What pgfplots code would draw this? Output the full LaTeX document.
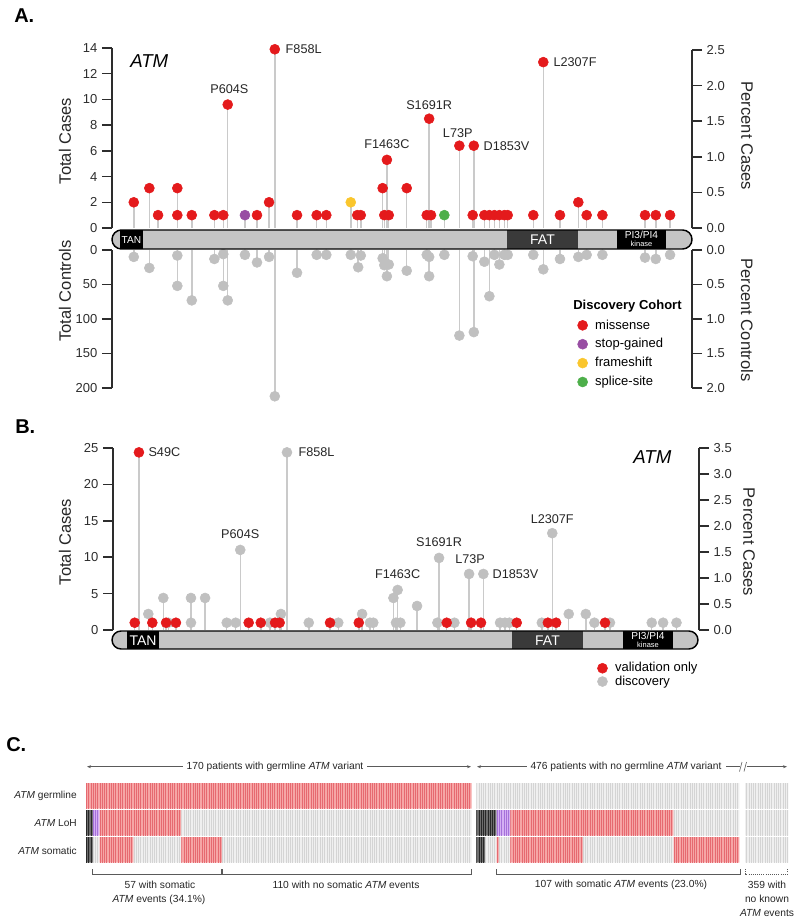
\documentclass[border=0pt]{standalone}
\usepackage{fontspec}
\setmainfont{Liberation Sans}
\usepackage{pgfplots}
\pgfplotsset{compat=1.18}
\usepackage{pgfplotstable}
\usetikzlibrary{patterns.meta,arrows.meta}

\definecolor{mred}{RGB}{228,26,28}
\definecolor{mpur}{RGB}{152,78,163}
\definecolor{myel}{RGB}{250,198,45}
\definecolor{mgrn}{RGB}{77,175,74}
\definecolor{hgrey}{RGB}{192,192,192}
\definecolor{stemc}{RGB}{202,202,202}
\definecolor{axc}{RGB}{45,45,45}
\definecolor{barc}{RGB}{196,196,196}
\definecolor{fatc}{RGB}{58,58,58}
\definecolor{cellred}{RGB}{246,166,166}
\definecolor{cellredL}{RGB}{230,105,112}
\definecolor{cellgrey}{RGB}{239,239,239}
\definecolor{cellgreyL}{RGB}{212,212,212}
\definecolor{celldark}{RGB}{110,110,110}
\definecolor{celldarkL}{RGB}{40,40,40}
\definecolor{cellpur}{RGB}{212,175,244}
\definecolor{cellpurL}{RGB}{165,112,218}
\definecolor{annc}{RGB}{90,90,90}

% ---------------- Panel A: cases (discovery cohort) ----------------
\pgfplotstableread{
x y
97 2
181 3.1
228 1
332 3.1
332 1
410 1
532 1
580 1
604 9.6
762 1
827 2
858 13.9
978 1
1084 1
1136 1
1303 1
1322 1
1440 3.1
1449 1
1463 5.3
1473 1
1570 3.1
1678 1
1691 8.5
1701 1
1854 6.4
1926 1
1932 6.4
1989 1
2016 1
2043 1
2070 1
2097 1
2115 1
2253 1
2307 12.9
2397 1
2496 2
2541 1
2626 1
2856 1
2914 1
2991 1
}\Amis
\pgfplotstableread{
x y
697 1
}\Astop
\pgfplotstableread{
x y
1268 2
}\Afs
\pgfplotstableread{
x y
1773 1
}\Asp
% ---------------- Panel A: controls ----------------
\pgfplotstableread{
x y
97 10
181 26
332 8
332 52
410 73
532 13
580 6
580 52
604 73
697 7
762 18
827 10
858 212
978 33
1084 7
1136 7
1268 7
1308 25
1322 8
1440 12
1449 22
1463 38
1473 21
1570 30
1678 7
1691 10
1691 38
1773 7
1854 124
1926 9
1932 119
1989 17
2016 67
2043 7
2070 21
2097 7
2115 7
2253 7
2307 28
2397 13
2496 10
2541 7
2626 7
2856 11
2914 13
2991 7
}\Actrl
% ---------------- Panel B ----------------
\pgfplotstableread{
x y
102 2.2
184 4.4
211 1
335 4.4
335 1
412 4.4
530 1
579 1
604 11
766 1
826 2.2
859 24.4
978 1
1139 1
1269 2.2
1312 1
1330 1
1440 4.4
1454 1
1463 5.5
1478 1
1569 3.3
1680 1
1689 9.9
1773 1
1853 7.7
1931 7.7
2022 1
2049 1
2073 1
2250 1
2307 13.3
2397 2.2
2490 2.2
2537 1
2622 1
2850 1
2912 1
2985 1
}\Bdisc
\pgfplotstableread{
x y
28 1
51 24.4
124 1
199 1
253 1
650 1
716 1
794 1
819 1
1094 1
1251 1
1731 1
1864 1
1918 1
2113 1
2283 1
2328 1
2595 1
}\Bval

\pgfplotsset{
  lolli/.style={
    scale only axis, clip=false, axis x line=none,
    axis line style={draw=axc, line width=1.1pt, -},
    tick style={draw=axc, line width=1.1pt},
    major tick length=7.5pt, tick align=outside,
    tick label style={font=\fontsize{9.75}{10}\selectfont, text=axc},
    /pgf/number format/assume math mode=true,
  },
  pct/.style={yticklabel style={/pgf/number format/fixed, /pgf/number format/fixed zerofill, /pgf/number format/precision=1}},
  stemst/.style={ycomb, draw=stemc, line width=1.1pt, mark=none, forget plot},
  head/.style={only marks, mark=*, mark size=3.75pt, draw=#1, fill=#1, forget plot},
  cellst/.style 2 args={draw=none, fill=#1, forget plot,
     postaction={pattern={Lines[angle=90,distance=1.702pt,line width=0.4pt]}, pattern color=#2}},
}
\tikzset{
  vlab/.style={font=\fontsize{9.5}{10}\selectfont, inner sep=0pt, text=black!85},
  alab/.style={font=\fontsize{12.4}{13}\selectfont, text=black!85},
  ctxt/.style={font=\fontsize{7.7}{9}\selectfont, text=black!85, inner sep=0pt},
}
\newcommand\seg[4]{\addplot[cellst={#3}{#4}] coordinates {(#1,\ya) (#2,\ya) (#2,\yb) (#1,\yb) (#1,\ya)};}

\begin{document}
\begin{tikzpicture}
\path[use as bounding box] (0,0) rectangle (600pt,-692.25pt);

% ===== Panel A upper (cases) =====
\begin{axis}[lolli, at={(84pt,-171pt)}, anchor=south west, width=435pt, height=135pt,
  xmin=-20.5, xmax=3109.5, ymin=0, ymax=14, axis y line*=left, ytick={0,2,4,6,8,10,12,14},
  legend style={at={(0.795,-0.489)}, anchor=north west, draw=none, fill=none,
    font=\fontsize{9.75}{11}\selectfont, row sep=4.6pt, nodes={inner sep=0.5pt},
    /tikz/every odd column/.append style={column sep=5pt}},
  legend cell align=left]
\addplot[stemst] table {\Amis};
\addplot[stemst] table {\Astop};
\addplot[stemst] table {\Afs};
\addplot[stemst] table {\Asp};
\addplot[head=mred] table {\Amis};
\addplot[head=mpur] table {\Astop};
\addplot[head=myel] table {\Afs};
\addplot[head=mgrn] table {\Asp};
\addlegendimage{legend image code/.code={\fill[mred] (0pt,0pt) circle (3.75pt);}}
\addlegendentry{missense}
\addlegendimage{legend image code/.code={\fill[mpur] (0pt,0pt) circle (3.75pt);}}
\addlegendentry{stop-gained}
\addlegendimage{legend image code/.code={\fill[myel] (0pt,0pt) circle (3.75pt);}}
\addlegendentry{frameshift}
\addlegendimage{legend image code/.code={\fill[mgrn] (0pt,0pt) circle (3.75pt);}}
\addlegendentry{splice-site}
\node[vlab, yshift=11.5pt, xshift=1.2pt] at (axis cs:604,9.6) {P604S};
\node[vlab, anchor=west, xshift=8pt] at (axis cs:858,13.9) {F858L};
\node[vlab, yshift=11.5pt] at (axis cs:1463,5.3) {F1463C};
\node[vlab, yshift=10.5pt] at (axis cs:1691,8.5) {S1691R};
\node[vlab, yshift=9.5pt, xshift=-1.2pt] at (axis cs:1854,6.4) {L73P};
\node[vlab, anchor=west, xshift=7.2pt] at (axis cs:1932,6.4) {D1853V};
\node[vlab, anchor=west, xshift=7.5pt] at (axis cs:2307,12.9) {L2307F};
\end{axis}
\begin{axis}[lolli, pct, at={(84pt,-171pt)}, anchor=south west, width=435pt, height=133.5pt,
  xmin=-20.5, xmax=3109.5, ymin=0, ymax=2.5, axis y line*=right, ytick={0,0.5,1,1.5,2,2.5}]
\end{axis}

% ===== Panel A lower (controls) =====
\begin{axis}[lolli, at={(84pt,-187.5pt)}, anchor=north west, width=435pt, height=103.5pt,
  xmin=-20.5, xmax=3109.5, ymin=0, ymax=200, y dir=reverse, axis y line*=left, ytick={0,50,100,150,200}]
\addplot[stemst] table {\Actrl};
\addplot[head=hgrey] table {\Actrl};
\end{axis}
\begin{axis}[lolli, pct, at={(84pt,-187.5pt)}, anchor=north west, width=435pt, height=103.5pt,
  xmin=-20.5, xmax=3109.5, ymin=0, ymax=2, y dir=reverse, axis y line*=right, ytick={0,0.5,1,1.5,2}]
\end{axis}

% ===== Panel B =====
\begin{axis}[lolli, at={(84.75pt,-472.5pt)}, anchor=south west, width=439.5pt, height=136.5pt,
  xmin=-90.6, xmax=3108, ymin=0, ymax=25, axis y line*=left, ytick={0,5,10,15,20,25},
  legend style={at={(0.819,-0.159)}, anchor=north west, draw=none, fill=none,
    font=\fontsize{9.75}{11}\selectfont, row sep=0.4pt, nodes={inner sep=0.5pt},
    /tikz/every odd column/.append style={column sep=5pt}},
  legend cell align=left]
\addplot[stemst] table {\Bdisc};
\addplot[stemst] table {\Bval};
\addplot[head=hgrey] table {\Bdisc};
\addplot[head=mred] table {\Bval};
\addlegendimage{legend image code/.code={\fill[mred] (0pt,0pt) circle (3.75pt);}}
\addlegendentry{validation only}
\addlegendimage{legend image code/.code={\fill[hgrey] (0pt,0pt) circle (3.75pt);}}
\addlegendentry{discovery}
\node[vlab, anchor=west, xshift=7pt] at (axis cs:51,24.4) {S49C};
\node[vlab, anchor=west, xshift=8.5pt] at (axis cs:859,24.4) {F858L};
\node[vlab, yshift=11.8pt] at (axis cs:604,11) {P604S};
\node[vlab, yshift=12pt] at (axis cs:1463,5.5) {F1463C};
\node[vlab, yshift=11.5pt] at (axis cs:1689,9.9) {S1691R};
\node[vlab, yshift=10.8pt, xshift=0.75pt] at (axis cs:1853,7.7) {L73P};
\node[vlab, anchor=west, xshift=6.75pt] at (axis cs:1931,7.7) {D1853V};
\node[vlab, yshift=10.7pt] at (axis cs:2307,13.3) {L2307F};
\end{axis}
\begin{axis}[lolli, pct, at={(84.75pt,-472.5pt)}, anchor=south west, width=439.5pt, height=136.5pt,
  xmin=-90.6, xmax=3108, ymin=0, ymax=3.5, axis y line*=right, ytick={0,0.5,1,1.5,2,2.5,3,3.5}]
\end{axis}

% ===== Panel C =====
\begin{axis}[scale only axis, hide axis, clip=false, at={(64.5pt,-647.5pt)}, anchor=south west,
  width=526.7pt, height=60.75pt, xmin=0, xmax=309.5, ymin=0, ymax=3]
% germline
\def\ya{2.03}\def\yb{2.97}
\seg{0}{170}{cellred}{cellredL}
\seg{172}{288}{cellgrey}{cellgreyL}
\seg{290.5}{309.5}{cellgrey}{cellgreyL}
% LoH
\def\ya{1.03}\def\yb{1.97}
\seg{0}{3}{celldark}{celldarkL}
\seg{3}{6}{cellpur}{cellpurL}
\seg{6}{42}{cellred}{cellredL}
\seg{42}{170}{cellgrey}{cellgreyL}
\seg{172}{181}{celldark}{celldarkL}
\seg{181}{187}{cellpur}{cellpurL}
\seg{187}{259}{cellred}{cellredL}
\seg{259}{288}{cellgrey}{cellgreyL}
\seg{290.5}{309.5}{cellgrey}{cellgreyL}
% somatic
\def\ya{0.03}\def\yb{0.97}
\seg{0}{3}{celldark}{celldarkL}
\seg{3}{6}{cellgrey}{cellgreyL}
\seg{6}{21}{cellred}{cellredL}
\seg{21}{42}{cellgrey}{cellgreyL}
\seg{42}{60}{cellred}{cellredL}
\seg{60}{170}{cellgrey}{cellgreyL}
\seg{172}{176}{celldark}{celldarkL}
\seg{176}{181}{cellgrey}{cellgreyL}
\seg{181}{182}{cellred}{cellredL}
\seg{182}{187}{cellgrey}{cellgreyL}
\seg{187}{219}{cellred}{cellredL}
\seg{219}{259}{cellgrey}{cellgreyL}
\seg{259}{288}{cellred}{cellredL}
\seg{290.5}{309.5}{cellgrey}{cellgreyL}
\end{axis}

% ===== annotations in pixel coordinates =====
\begin{scope}[x=0.75pt, y=-0.75pt]
% panel letters
\node[anchor=west, font=\bfseries\fontsize{15}{16}\selectfont, inner sep=0pt] at (14,16) {A.};
\node[anchor=west, font=\bfseries\fontsize{15}{16}\selectfont, inner sep=0pt] at (15,427) {B.};
\node[anchor=west, font=\bfseries\fontsize{15}{16}\selectfont, inner sep=0pt] at (6,745) {C.};
% axis labels
\node[alab, rotate=90] at (65,141) {Total Cases};
\node[alab, rotate=90] at (65,291) {Total Controls};
\node[alab, rotate=-90] at (747,136) {Percent Cases};
\node[alab, rotate=-90] at (747,320) {Percent Controls};
\node[alab, rotate=90] at (65,542) {Total Cases};
\node[alab, rotate=-90] at (749,542) {Percent Cases};
% gene names
\node[anchor=west, inner sep=0pt, font=\itshape\fontsize{14}{15}\selectfont] at (130,61) {ATM};
\node[anchor=west, inner sep=0pt, font=\itshape\fontsize{14}{15}\selectfont] at (633,457) {ATM};
% legend title A
\node[anchor=west, inner sep=0pt, font=\bfseries\fontsize{9.75}{11}\selectfont] at (573,306) {Discovery Cohort};

% protein bar A
\begin{scope}
\clip[rounded corners=7.1pt] (112,230) rectangle (692,249);
\fill[barc] (112,230) rectangle (692,249);
\fill[black] (120,230) rectangle (143,249);
\fill[fatc] (507,230) rectangle (578,249);
\fill[black] (617,230) rectangle (666,249);
\end{scope}
\draw[line width=1.1pt, rounded corners=7.1pt] (112,230) rectangle (692,249);
\node[white, font=\fontsize{7.6}{8}\selectfont, inner sep=0pt] at (131.5,240) {TAN};
\node[white, font=\fontsize{10.5}{11}\selectfont, inner sep=0pt] at (542.5,240) {FAT};
\node[white, font=\fontsize{7.6}{8}\selectfont, inner sep=0pt] at (641.5,235.3) {PI3/PI4};
\node[white, font=\fontsize{5.6}{6}\selectfont, inner sep=0pt] at (641.5,244) {kinase};

% protein bar B
\begin{scope}
\clip[rounded corners=6.8pt] (112,631) rectangle (698,649);
\fill[barc] (112,631) rectangle (698,649);
\fill[black] (127,631) rectangle (159,649);
\fill[fatc] (512,631) rectangle (583,649);
\fill[black] (623,631) rectangle (673,649);
\end{scope}
\draw[line width=1.1pt, rounded corners=6.8pt] (112,631) rectangle (698,649);
\node[white, font=\fontsize{10.5}{11}\selectfont, inner sep=0pt] at (143,640.5) {TAN};
\node[white, font=\fontsize{10.5}{11}\selectfont, inner sep=0pt] at (547.5,640.5) {FAT};
\node[white, font=\fontsize{7.6}{8}\selectfont, inner sep=0pt] at (648,636) {PI3/PI4};
\node[white, font=\fontsize{5.6}{6}\selectfont, inner sep=0pt] at (648,644.5) {kinase};

% panel C row labels
\node[ctxt, anchor=east, font=\fontsize{7.6}{9}\selectfont] at (77,795.5) {\textit{ATM} germline};
\node[ctxt, anchor=east, font=\fontsize{7.6}{9}\selectfont] at (77,823.5) {\textit{ATM} LoH};
\node[ctxt, anchor=east, font=\fontsize{7.6}{9}\selectfont] at (77,850.5) {\textit{ATM} somatic};
% top arrows
\draw[annc, line width=0.45pt, {Stealth[length=3pt,width=2.2pt]}-{Stealth[length=3pt,width=2.2pt]}] (87,766.7) -- (471,766.7);
\node[ctxt, fill=white, inner xsep=3pt, inner ysep=1pt] at (275,766.7) {170 patients with germline \textit{ATM} variant};
\draw[annc, line width=0.45pt, {Stealth[length=3pt,width=2.2pt]}-] (477,766.7) -- (740,766.7);
\draw[annc, line width=0.45pt, -{Stealth[length=3pt,width=2.2pt]}] (746.5,766.7) -- (787,766.7);
\draw[annc, line width=0.45pt] (739.5,771.5) -- (742,762);
\draw[annc, line width=0.45pt] (744,771.5) -- (746.5,762);
\node[ctxt, fill=white, inner xsep=3pt, inner ysep=1pt] at (626,766.7) {476 patients with no germline \textit{ATM} variant};
% brackets
\draw[annc, line width=0.6pt] (92.7,869) -- (92.7,874) -- (221.7,874) -- (221.7,869);
\draw[annc, line width=0.6pt] (222.7,869) -- (222.7,874) -- (471,874) -- (471,869);
\draw[annc, line width=0.6pt] (496.7,869) -- (496.7,874) -- (740,874) -- (740,869);
\draw[annc, line width=0.6pt, densely dotted] (745,869) -- (745,874) -- (787.3,874) -- (787.3,869);
\node[ctxt] at (160,885) {57 with somatic};
\node[ctxt] at (159,899.5) {\textit{ATM} events (34.1\%)};
\node[ctxt] at (346,885) {110 with no somatic \textit{ATM} events};
\node[ctxt] at (621,885) {107 with somatic \textit{ATM} events (23.0\%)};
\node[ctxt] at (767,885) {359 with};
\node[ctxt] at (767,899) {no known};
\node[ctxt] at (767,913) {\textit{ATM} events};
\end{scope}
\end{tikzpicture}
\end{document}
